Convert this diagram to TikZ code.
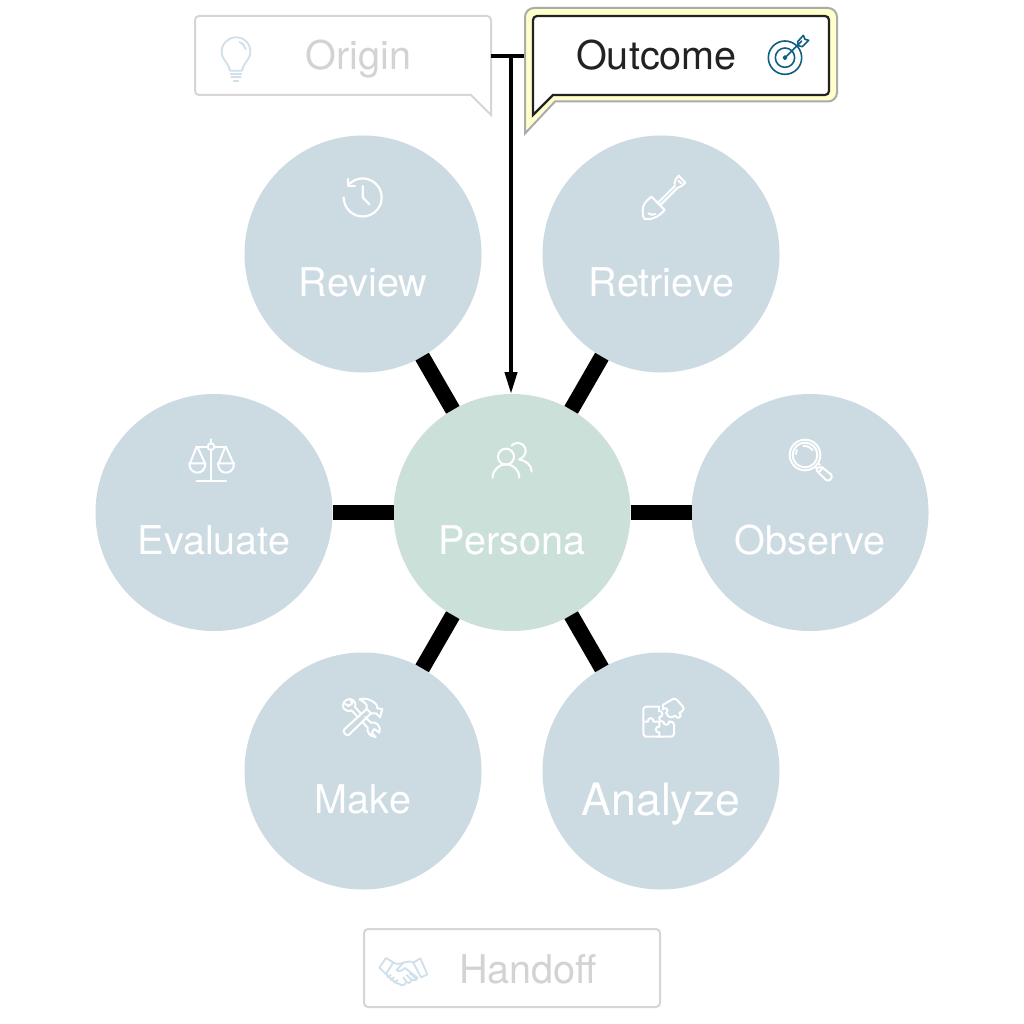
\documentclass[tikz,border=0pt]{standalone}
\usepackage{fontspec}
\setmainfont{TeX Gyre Heros}
\usetikzlibrary{arrows.meta}
\definecolor{circblue}{HTML}{CCDAE1}
\definecolor{circgreen}{HTML}{CCE0DA}
\definecolor{fadeline}{HTML}{D6D6D6}
\definecolor{fadetext}{HTML}{D3D3D3}
\definecolor{fadeicon}{HTML}{CFE0EA}
\definecolor{halo}{HTML}{FFFFCC}
\definecolor{halorim}{HTML}{ABABAB}
\definecolor{inktext}{HTML}{222222}
\definecolor{teal}{HTML}{0F5F80}
\tikzset{
  x=1pt,y=1pt,
  bubble/.style={circle,minimum size=237pt,inner sep=0pt,outer sep=0pt,fill=circblue},
  spoke/.style={draw=black,line width=15.5pt},
  lab/.style={anchor=base,inner sep=0pt,text=white,font=\fontsize{39.6}{41}\selectfont},
  biglab/.style={lab,font=\fontsize{44.6}{46}\selectfont},
  fadelab/.style={lab,text=fadetext},
  anchorbox/.style={rectangle,inner sep=0pt,outer sep=0pt},
  icon/.style={draw=white,line width=2.2pt,line cap=round,line join=round},
  thinicon/.style={icon,line width=2pt},
  fadeic/.style={draw=fadeicon,line width=1.8pt,line cap=round,line join=round},
  tealic/.style={draw=teal,line width=1.6pt,line cap=round,line join=round},
  wire/.style={draw=black,line width=4pt},
  fadeshape/.style={draw=fadeline,line width=2pt,rounded corners=4pt,fill=white},
}
\begin{document}
\begin{tikzpicture}[yscale=-1]
\useasboundingbox (0,0) rectangle (1024,1024);
\fill[white] (0,0) rectangle (1024,1024);

% circles
\node[bubble,fill=circgreen] (persona) at (512,512.5) {};
\node[bubble] (review) at (363,254) {};
\node[bubble] (retrieve) at (661,254) {};
\node[bubble] (evaluate) at (214,512.5) {};
\node[bubble] (observe) at (810,512.5) {};
\node[bubble] (make) at (363,771) {};
\node[bubble] (analyze) at (661,771) {};

% spokes
\foreach \t in {review,retrieve,evaluate,observe,make,analyze}
  \draw[spoke] (persona) -- (\t);

% labels
\node[lab] (tpersona) at (512,554) {Persona};
\node[lab] (treview) at (363,296) {Review};
\node[lab] (tretrieve) at (661.5,296) {Retrieve};
\node[lab] (tevaluate) at (214,554) {Evaluate};
\node[lab] (tobserve) at (810,554) {Observe};
\node[lab] (tmake) at (363,813) {Make};
\node[biglab] (tanalyze) at (661,815) {Analyze};

% Origin callout
\node[anchorbox,minimum width=296pt,minimum height=79pt] (origin) at (343,55.5) {};
\draw[fadeshape] (195,16) -- (491,16) -- (491,70) [sharp corners] -- (491,115) -- (471,95) -- (300,95) [rounded corners=4pt] -- (195,95) -- cycle;
\node[fadelab] (torigin) at (358.5,70) {Origin};

% Handoff box
\node[anchorbox,draw=fadeline,line width=2pt,rounded corners=4pt,minimum width=296pt,minimum height=78pt] (handoff) at (512,968) {};
\node[fadelab] (thandoff) at (528,983) {Handoff};

% Outcome anchor
\node[anchorbox,minimum width=311pt,minimum height=94pt] (outcome) at (680.5,55) {};

% wires
\coordinate (junc) at (511,56);
\draw[wire,line width=3.5pt] (origin.east |- junc) -- (outcome.west |- junc);
\draw[wire,-{Triangle[length=22pt,width=12pt]}] (junc) -- (junc |- persona.north);

% Outcome callout
\draw[draw=halorim,line width=2pt,fill=halo,rounded corners=9pt]
  (525,8) -- (837,8) -- (837,101.5) -- (700,101.5) [sharp corners] -- (555,101.5) -- (525,133.5) -- (525,90) [rounded corners=9pt] -- cycle;
\draw[draw=inktext,line width=2.2pt,fill=white,rounded corners=4pt]
  (533,16) -- (829,16) -- (829,95) -- (700,95) [sharp corners] -- (553,95) -- (533,115) -- (533,90) [rounded corners=4pt] -- cycle;
\node[lab,text=inktext] (toutcome) at (656.5,70) {Outcome};

% Bulb icon
\begin{scope}[shift={(180,0)},scale=1/3]
\draw[fadeic] (150,212) .. controls (148,190) and (125,180) .. (125,155) .. controls (125,130) and (145,112) .. (168,112) .. controls (192,112) and (211,130) .. (211,155) .. controls (211,180) and (188,190) .. (186,212) -- cycle;
\draw[fadeic] (178,126) .. controls (188,130) and (195,138) .. (197,148);
\draw[fadeic] (152,222) -- (184,222) (154,232) -- (182,232) (161,242) -- (175,242);
\end{scope}

% Target icon
\begin{scope}[shift={(490,0)},scale=1/3]
\draw[tealic] (885,173) circle (50);
\draw[tealic] (885,173) circle (29);
\draw[tealic,fill=teal] (885,173) circle (5);
\draw[tealic] (885,173) -- (935,123);
\draw[tealic] (923,125) -- (940,106) -- (945,118) -- (956,121) -- (937,140) -- (925,137) -- cycle;
\end{scope}

% Review icon
\begin{scope}[shift={(320,160)},scale=1/3]
\draw[icon] (85,75) arc[start angle=221,end angle=540,radius=57];
\draw[icon] (85,57) -- (85,78) -- (105,78);
\draw[icon] (128,78) -- (128,112) -- (148,133);
\end{scope}

% Shovel icon
\begin{scope}[shift={(620,160)},scale=1/3]
\draw[thinicon] (94,110) .. controls (82,120) and (64,135) .. (68,155) .. controls (69,168) and (70,175) .. (74,177) .. controls (90,180) and (112,175) .. (134,150) -- (118,133) -- (112,128) -- cycle;
\draw[thinicon] (105,121) -- (122,138) (113,129) -- (166,76) (120,136) -- (172,84);
\draw[thinicon] (163,72) .. controls (165,62) and (168,52) .. (176,47) -- (196,68) .. controls (190,76) and (182,80) .. (172,84);
\draw[thinicon] (175,62) -- (184,70);
\draw[thinicon] (85,160) .. controls (92,166) and (100,165) .. (106,162);
\end{scope}

% Scales icon
\begin{scope}[shift={(170,430)},scale=1/3]
\draw[thinicon] (123,28) -- (123,40) (123,60) -- (123,152) (80,152) -- (168,152);
\draw[thinicon] (123,50) circle (10);
\draw[thinicon] (80,50) -- (113,50) (133,50) -- (167,50);
\draw[thinicon] (80,50) -- (60,100) (82,50) -- (105,100);
\draw[thinicon] (58,100) -- (106,100) .. controls (106,118) and (95,128) .. (82,128) .. controls (69,128) and (58,118) .. (58,100) -- cycle;
\draw[thinicon] (166,50) -- (146,100) (168,50) -- (190,100);
\draw[thinicon] (144,100) -- (192,100) .. controls (192,118) and (181,128) .. (168,128) .. controls (155,128) and (144,118) .. (144,100) -- cycle;
\end{scope}

% Persona icon
\begin{scope}[shift={(470,430)},scale=1/3]
\draw[thinicon] (108,80) circle (24);
\draw[thinicon] (68,143) arc[start angle=180,end angle=360,radius=40];
\draw[thinicon] (125,47) .. controls (132,38) and (148,36) .. (158,44) .. controls (172,54) and (172,78) .. (147,88) .. controls (168,92) and (185,105) .. (185,125);
\end{scope}

% Magnifier icon
\begin{scope}[shift={(770,430)},scale=1/3]
\draw[thinicon] (105,75) circle (46);
\draw[thinicon] (105,75) circle (37);
\draw[thinicon] (80,60) -- (78,72);
\draw[thinicon] (100,48) .. controls (112,47) and (122,52) .. (128,60);
\draw[thinicon] (148,112) .. controls (142,110) and (138,116) .. (140,122) -- (168,150) .. controls (176,156) and (190,145) .. (184,134) -- (156,112) .. controls (153,110) and (150,110) .. (148,112);
\draw[thinicon] (140,115) -- (135,110) (150,105) -- (145,100);
\draw[thinicon] (146,127) -- (160,112);
\end{scope}

% Tools icon
\begin{scope}[shift={(320,685)},scale=1/3]
\draw[thinicon] (90,42) .. controls (74,42) and (65,58) .. (70,68) .. controls (76,78) and (88,80) .. (95,76) -- (113,96);
\draw[thinicon] (126,110) -- (143,128) .. controls (140,142) and (150,155) .. (167,156) -- (155,143) -- (163,132) -- (178,143) .. controls (184,125) and (170,108) .. (153,113) -- (135,96);
\draw[thinicon] (122,85) -- (105,66) .. controls (110,54) and (102,45) .. (90,42) -- (97,55) -- (85,63) -- (73,55);
\draw[thinicon] (140,72) -- (72,134) .. controls (66,140) and (80,155) .. (86,150) -- (153,85);
\draw[thinicon] (140,72) -- (140,60) .. controls (136,52) and (128,48) .. (118,43) .. controls (135,38) and (155,42) .. (170,60) -- (172,70) -- (187,72) -- (180,97) -- (168,85) -- (153,85) -- cycle;
\end{scope}

% Puzzle icon
\begin{scope}[shift={(620,685)},scale=1/3]
\draw[thinicon,rounded corners=3pt] (118,65) -- (70,65) -- (70,155) -- (162,155) -- (162,110) -- (147,110);
\draw[thinicon,rounded corners=3pt] (130,110) -- (118,110) -- (118,96);
\draw[thinicon] (118,78) -- (118,65);
\draw[thinicon] (118,78) .. controls (130,76) and (130,98) .. (118,96);
\draw[thinicon] (147,110) .. controls (150,122) and (128,122) .. (130,110);
\draw[thinicon] (70,110) -- (84,110) .. controls (80,96) and (104,96) .. (100,110) -- (118,110);
\draw[thinicon] (118,110) -- (118,125) .. controls (104,122) and (104,145) .. (118,142) -- (118,155);
\draw[thinicon,rounded corners=3pt] (128,60) -- (165,38) -- (195,72) -- (178,84);
\draw[thinicon] (178,84) .. controls (190,94) and (172,106) .. (165,92);
\draw[thinicon,rounded corners=3pt] (165,92) -- (150,100) -- (138,84);
\draw[thinicon] (138,84) .. controls (150,78) and (136,62) .. (128,73);
\draw[thinicon] (128,73) -- (128,60);
\end{scope}

% Handshake icon
\begin{scope}[shift={(360,920)},scale=1/3]
\draw[fadeic] (58,143) -- (78,114) -- (100,127) -- (78,162) -- cycle;
\draw[fadeic] (202,163) -- (181,115) -- (160,128) -- (183,172) -- cycle;
\draw[fadeic] (100,128) .. controls (112,135) and (125,130) .. (130,128) .. controls (140,125) and (150,122) .. (160,128);
\draw[fadeic] (130,128) -- (110,150) .. controls (118,160) and (128,148) .. (135,144) -- (172,173);
\draw[fadeic] (172,173) .. controls (170,182) and (160,184) .. (155,178) .. controls (153,190) and (143,192) .. (138,186) .. controls (135,197) and (125,198) .. (118,192) .. controls (108,190) and (95,180) .. (78,162);
\draw[fadeic] (82,172) -- (92,165) (92,180) -- (102,172) (103,188) -- (113,180);
\draw[fadeic] (150,160) -- (170,178) (140,165) -- (155,180) (130,172) -- (140,186);
\end{scope}
\end{tikzpicture}
\end{document}
